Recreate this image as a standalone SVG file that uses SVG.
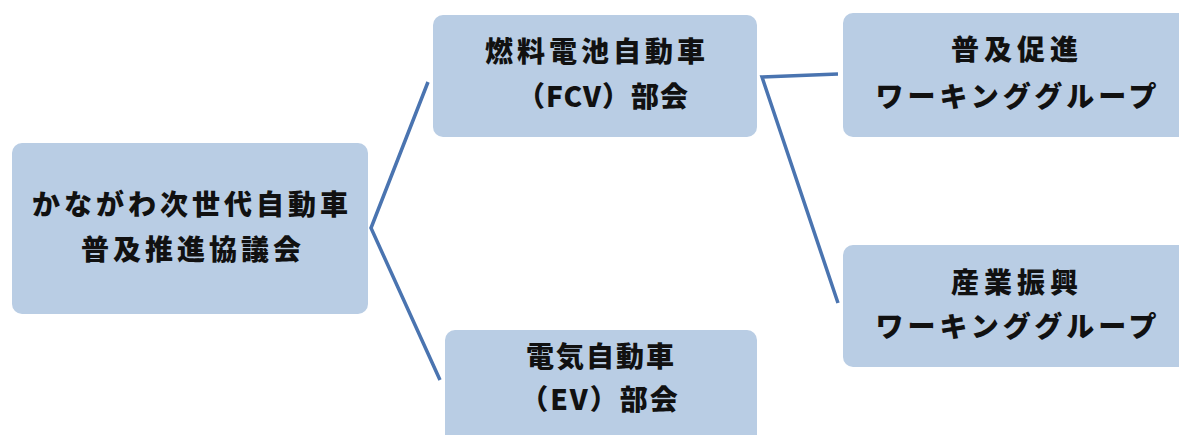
<svg xmlns="http://www.w3.org/2000/svg" width="1179" height="435" viewBox="0 0 1179 435">
<style>
.box{fill:#b9cde4;stroke:none}
.t{font-family:"Noto Sans CJK JP","Noto Sans CJK SC",sans-serif;font-weight:900;font-size:28px;fill:#111111;text-anchor:middle}
.c{fill:none;stroke:#4a74b0;stroke-width:3.5;stroke-linejoin:miter}
</style>
<rect width="1179" height="435" fill="#ffffff"/>
<g id="connectors">
<polyline class="c" points="428,82 371,228 440,380"/>
<polyline class="c" points="838,74 762,77 838,303"/>
</g>
<g id="node-council">
<rect class="box" x="12" y="143" width="356" height="171" rx="10"/>
<text class="t" x="192" y="215" style="letter-spacing:4px">かながわ次世代自動車</text>
<text class="t" x="193" y="260" style="letter-spacing:4px">普及推進協議会</text>
</g>
<g id="node-fcv">
<rect class="box" x="433" y="15" width="324" height="122" rx="10"/>
<text class="t" x="597" y="62" style="letter-spacing:4px">燃料電池自動車</text>
<text class="t" x="603" y="107" style="letter-spacing:1px">（FCV）部会</text>
</g>
<g id="node-ev">
<rect class="box" x="445" y="330" width="312" height="130" rx="10"/>
<text class="t" x="601" y="367" style="letter-spacing:2px">電気自動車</text>
<text class="t" x="600" y="410" style="letter-spacing:2px">（EV）部会</text>
</g>
<g id="node-wg-promo">
<rect class="box" x="843" y="13" width="350" height="124" rx="10"/>
<text class="t" x="1017" y="60" style="letter-spacing:5px">普及促進</text>
<text class="t" x="1018" y="107" style="letter-spacing:4px">ワーキンググループ</text>
</g>
<g id="node-wg-industry">
<rect class="box" x="843" y="245" width="350" height="122" rx="10"/>
<text class="t" x="1017" y="293" style="letter-spacing:5px">産業振興</text>
<text class="t" x="1018" y="337" style="letter-spacing:4px">ワーキンググループ</text>
</g>
</svg>
